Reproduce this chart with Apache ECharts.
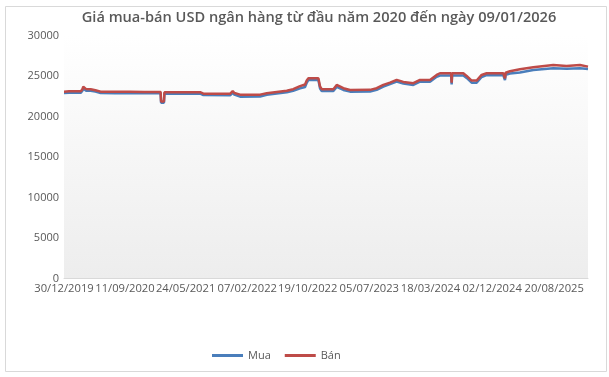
<!DOCTYPE html>
<html>
<head>
<meta charset="utf-8">
<script src="https://cdn.jsdelivr.net/npm/echarts@6/dist/echarts.min.js"></script>
<style>
html,body{margin:0;padding:0;background:#fff;}
#chart{width:609px;height:377px;}
</style>
</head>
<body>
<div id="chart"></div>
<script>
// ---- data ----
const titleText = 'Giá mua-bán USD ngân hàng từ đầu năm 2020 đến ngày 09/01/2026';
const seriesNames = ['Mua', 'Bán'];
const dates = [
  '2019-12-30','2020-01-20','2020-02-15','2020-03-10','2020-03-17','2020-03-20','2020-04-01','2020-04-20',
  '2020-05-10','2020-06-01','2020-08-01','2020-10-01','2020-12-01','2021-02-08','2021-02-10','2021-02-22',
  '2021-02-24','2021-03-20','2021-07-24','2021-08-07','2021-11-28','2021-12-08','2021-12-15','2022-01-08',
  '2022-04-02','2022-04-30','2022-06-11','2022-07-23','2022-08-19','2022-09-17','2022-10-08','2022-10-15',
  '2022-10-22','2022-12-03','2022-12-10','2022-12-17','2023-02-04','2023-02-18','2023-03-18','2023-04-15',
  '2023-07-08','2023-08-05','2023-09-02','2023-09-30','2023-10-28','2023-11-25','2024-01-06','2024-02-03',
  '2024-03-16','2024-04-13','2024-04-27','2024-06-13','2024-06-15','2024-06-17','2024-08-03','2024-08-17',
  '2024-09-07','2024-09-28','2024-10-19','2024-11-09','2025-01-18','2025-01-25','2025-01-28','2025-02-15',
  '2025-03-29','2025-05-24','2025-08-16','2025-10-11','2025-12-06','2026-01-09'
];
const buy = [
  22900,22930,22950,22940,23200,23450,23180,23170,
  23080,22900,22880,22890,22860,22860,21700,21700,
  22830,22820,22830,22650,22630,22950,22700,22450,
  22470,22680,22850,23000,23180,23470,23650,24150,
  24520,24500,23450,23150,23150,23650,23280,23070,
  23080,23290,23690,24000,24300,24070,23900,24300,
  24300,24900,25050,25060,23950,25060,25050,24760,
  24180,24180,24880,25100,25100,24500,25150,25300,
  25420,25750,25960,25910,25960,25870
];
const sell = [
  23070,23110,23130,23110,23400,23680,23380,23370,
  23250,23070,23060,23070,23040,23040,21850,21850,
  23000,22990,23000,22820,22820,23150,22900,22700,
  22700,22870,23030,23190,23370,23750,23950,24450,
  24720,24720,23700,23370,23370,23900,23490,23280,
  23290,23490,23900,24180,24520,24270,24110,24520,
  24520,25130,25340,25340,24180,25340,25340,25010,
  24430,24430,25130,25340,25340,24720,25400,25590,
  25840,26080,26370,26240,26370,26160
];
const xTickLabels = ['30/12/2019','11/09/2020','24/05/2021','07/02/2022','19/10/2022','05/07/2023','18/03/2024','02/12/2024','20/08/2025'];
const xMin = '2019-12-30', xMax = '2026-01-09';
const yTicks = [0, 5000, 10000, 15000, 20000, 25000, 30000];

// ---- build ----
const DAY = 86400000;
function dayNum(iso){ const p = iso.split('-').map(Number); return Math.round(Date.UTC(p[0], p[1]-1, p[2]) / DAY); }
function toISO(lbl){ const p = lbl.split('/'); return p[2] + '-' + p[1] + '-' + p[0]; }
const tickValues = xTickLabels.map(l => dayNum(toISO(l)));
const buyData = dates.map((d, i) => [dayNum(d), buy[i]]);
const sellData = dates.map((d, i) => [dayNum(d), sell[i]]);
const FONT = '"Open Sans", "Noto Sans", sans-serif';
const TXT = '#595959';

const chart = echarts.init(document.getElementById('chart'), null, {renderer: 'canvas'});
chart.setOption({
  animation: false,
  backgroundColor: '#ffffff',
  graphic: [{
    type: 'rect', shape: {x: 5.5, y: 6.5, width: 601, height: 365},
    style: {fill: 'none', stroke: '#d9d9d9', lineWidth: 1}, z: -10
  }, {
    type: 'text', x: 319, y: 18,
    style: {text: titleText, textAlign: 'center', textVerticalAlign: 'middle',
      fontFamily: FONT, fontSize: 14.6, fontWeight: 600, fill: TXT}
  }],
  legend: {
    data: seriesNames, left: 207, top: 345, itemWidth: 31, itemHeight: 3, itemGap: 14,
    icon: 'rect',
    textStyle: {fontFamily: FONT, fontSize: 11, color: TXT}
  },
  grid: {
    left: 64, right: 21, top: 35.5, bottom: 98.5, containLabel: false, show: true, borderWidth: 0,
    backgroundColor: new echarts.graphic.LinearGradient(0, 0, 0, 1, [
      {offset: 0, color: '#ffffff'}, {offset: 1, color: '#ededed'}
    ])
  },
  xAxis: {
    type: 'value', min: dayNum(xMin), max: dayNum(xMax),
    axisLine: {show: true, lineStyle: {color: '#d9d9d9', width: 1}},
    axisTick: {show: false},
    splitLine: {show: false},
    axisLabel: {
      customValues: tickValues, hideOverlap: false, showMinLabel: true, showMaxLabel: true,
      margin: 5, fontFamily: FONT, fontSize: 11.2, color: TXT,
      formatter: function (v) {
        const i = tickValues.indexOf(v);
        return i >= 0 ? xTickLabels[i] : '';
      }
    }
  },
  yAxis: {
    type: 'value', min: yTicks[0], max: yTicks[yTicks.length - 1], interval: yTicks[1] - yTicks[0],
    axisLine: {show: false}, axisTick: {show: false}, splitLine: {show: false},
    axisLabel: {margin: 5, fontFamily: FONT, fontSize: 11, color: TXT,
      formatter: function (v) { return String(v); }}
  },
  series: [
    {name: seriesNames[0], type: 'line', data: buyData, showSymbol: false, symbol: 'none',
     lineStyle: {color: '#4a7ebb', width: 2.5}, itemStyle: {color: '#4a7ebb'}},
    {name: seriesNames[1], type: 'line', data: sellData, showSymbol: false, symbol: 'none',
     lineStyle: {color: '#be4b48', width: 2.5}, itemStyle: {color: '#be4b48'}}
  ]
});
</script>
</body>
</html>
